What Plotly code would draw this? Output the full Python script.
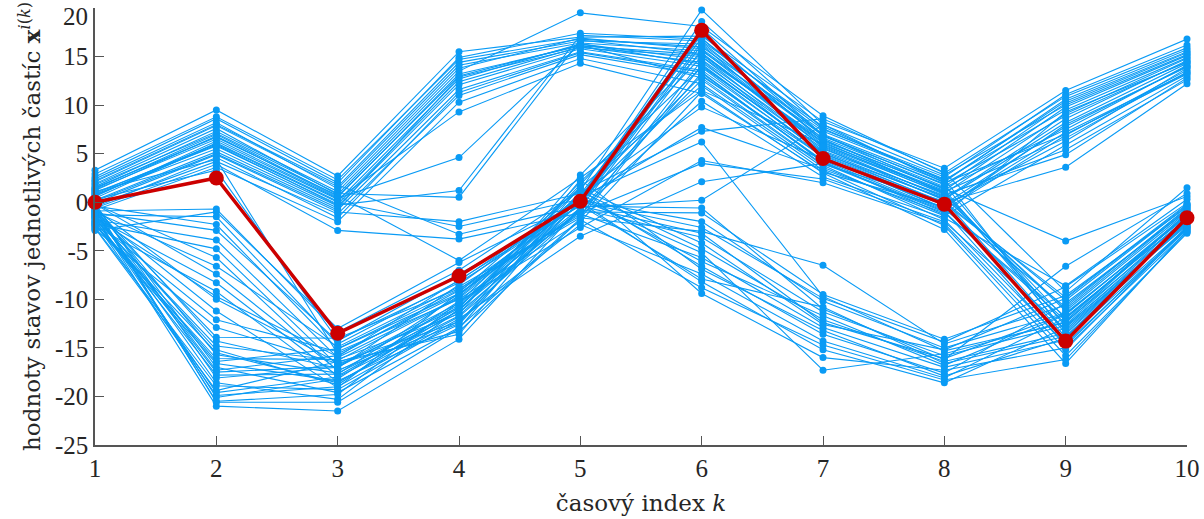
import plotly.graph_objects as go

# time index
k = [1, 2, 3, 4, 5, 6, 7, 8, 9, 10]

# particle values per time step (same particle order in every list)
x_k1 = [1.2, 0.8, 2.1, -0.3, 3.3, 0.4, 1.6, -0.8, 2.6, 0.1, 1.9, 0.6,
        1.0, 2.4, -0.5, 1.4, 0.2, 2.9,
        1.3, 0.7, 1.8, -0.1, 0.9, 2.2, -0.6, 1.5,
        0.3, 1.1,
        -0.9, -1.3, -0.4, -1.8, -2.2, -0.2, -1.0, -1.6, -2.5, -0.7, -1.2, -2.0,
        -0.5, -1.5, -2.3, -0.3, -1.9, -1.1, -2.7, -0.8, -1.4, -2.1,
        -1.7, -0.6, -2.4, -1.0, -0.1, -2.6, -1.5, -0.4, -2.0, -1.3, -0.9, -2.3,
        -1.6, -0.2, -2.8, -1.1, -0.7, -2.9]
x_k2 = [6.8, 5.5, 7.9, 4.2, 9.5, 6.1, 7.3, 3.6, 8.6, 5.0, 7.6, 6.3,
        5.8, 8.2, 4.6, 7.0, 5.2, 8.8,
        6.5, 5.9, 7.1, 4.9, 6.0, 8.0, 3.9, 6.7,
        3.3, 4.4,
        -0.7, -1.5, -2.3, -3.9, -4.8, -5.7, -6.6, -8.3, -9.2, -10.0, -11.2, -12.1,
        -14.3, -15.2, -16.1, -17.0, -17.8, -18.6, -19.4, -20.1, -21.0, -19.9,
        -14.8, -15.7, -16.6, -17.3, -18.1, -18.9, -19.6, -20.6, -16.4, -17.5, -13.9, -15.5,
        -9.7, -7.4, -12.9, -2.9, -20.5, -1.0]
x_k3 = [0.5, -0.4, 1.6, -1.2, 2.7, 0.1, 1.1, -2.0, 2.0, -0.8, 0.8, 0.3,
        -0.2, 1.4, -1.6, 0.6, -0.6, 2.3,
        0.4, -0.3, 0.9, -1.0, 0.0, 1.8, -2.9, 0.7,
        -14.2, -15.6,
        -13.4, -14.6, -15.1, -16.0, -16.8, -17.4, -14.9, -17.9, -18.5, -16.5, -19.1, -15.4,
        -17.1, -18.8, -16.2, -19.6, -17.7, -20.3, -16.4, -18.2, -21.5, -19.0,
        -16.3, -17.6, -18.4, -15.8, -17.0, -19.3, -18.0, -20.6, -15.1, -16.9, -14.0, -18.6,
        -15.9, -17.3, -16.6, -14.3, -19.8, -13.0]
x_k4 = [13.2, 12.1, 14.4, 11.0, 15.5, 12.7, 13.8, 10.3, 14.9, 11.6, 13.5, 9.3,
        12.4, 14.1, 11.3, 13.0, 12.9, 14.7,
        4.6, 1.2, 0.5, -2.0, -2.5, -3.3, -3.8, -6.0,
        -8.3, -9.5,
        -7.0, -8.1, -9.0, -9.8, -10.4, -11.2, -8.7, -10.9, -11.8, -12.3, -9.3, -10.0,
        -8.5, -10.7, -11.5, -12.9, -9.6, -11.0, -13.6, -10.2, -14.1, -12.0,
        -9.9, -11.4, -12.6, -9.1, -10.6, -12.2, -11.7, -13.0, -9.4, -10.8, -8.9, -11.1,
        -8.0, -12.5, -13.3, -7.4, -10.3, -6.2]
x_k5 = [16.1, 15.8, 16.6, 15.2, 17.0, 16.3, 16.9, 14.8, 17.4, 15.5, 19.5, 14.3,
        16.0, 16.4, 15.4, 16.2, 15.9, 16.8,
        16.3, 17.2, 16.7, 0.9, 0.3, -0.4, -1.1, 2.5,
        -0.3, 0.6,
        1.2, 0.4, -0.2, 0.8, -0.6, 1.8, -1.4, 2.1, -0.9, 0.1, 1.5, -2.0,
        0.5, -0.1, 2.8, -1.7, 0.7, -0.8, 1.0, -2.6, -0.5, -3.5,
        0.2, -0.7, 1.1, -1.2, 0.9, -2.3, 0.0, 1.6, -1.0, 0.6, -1.6, 0.3,
        -0.3, 2.3, -1.8, -0.4, 1.4, 0.0]
x_k6 = [15.2, 14.0, 16.3, 13.1, 17.1, 14.7, 15.8, 12.2, 16.8, 13.6, 18.1, 11.2,
        14.4, 15.6, 13.4, 12.8, 15.0, 16.0,
        14.2, 16.6, 15.3, 9.8, 7.7, -3.2, 4.0, 11.5,
        16.2, 6.2,
        19.8, 18.6, 17.3, 16.9, 15.7, 15.0, 14.6, 13.9, 13.3, 12.6, 12.0, 11.4,
        17.9, 16.5, 15.4, 14.1, 13.0, 10.4, 7.3, 4.3, 0.2, 2.1,
        -2.0, -3.6, -4.8, -5.7, -6.6, -7.4, -8.2, -9.4, -1.1, -6.1, -3.0, -5.2,
        -7.9, -6.9, -8.8, -0.6, -4.2, -2.6]
x_k7 = [6.1, 5.2, 7.0, 4.3, 8.3, 5.8, 6.6, 3.6, 7.5, 4.8, 8.9, 3.1,
        5.5, 6.9, 4.1, 3.9, 6.4, 7.3,
        5.0, 7.8, 6.2, 4.4, 3.4, -12.4, 2.4, 6.0,
        5.6, -9.7,
        8.0, 7.6, 6.8, 6.3, 5.9, 5.3, 4.9, 4.6, 4.2, 3.8, 3.3, 3.0,
        6.9, 6.5, 5.7, 5.1, 4.7, 2.6, 8.6, 2.0, 8.0, 4.0,
        -10.2, -11.3, -12.1, -12.9, -13.6, -14.3, -15.2, -16.0, -9.5, -11.7, -6.5, -17.3,
        -10.8, -13.2, -14.7, -11.0, -12.6, -9.9]
x_k8 = [1.2, 0.3, 2.1, -0.8, 3.5, 0.9, 1.6, -1.4, 2.6, -0.2, 3.0, -0.5,
        0.6, 1.8, -0.9, 0.1, 1.4, 2.4,
        0.4, 2.2, 1.0, -0.3, -1.1, -16.1, -2.0, 0.8,
        0.2, -15.3,
        2.8, 2.3, 1.9, 1.5, 1.1, 0.7, 0.0, -0.6, -1.3, -1.8, -2.4, -2.8,
        1.3, 0.9, 0.5, -0.1, -0.7, -1.6, 3.1, -2.2, 2.0, -1.0,
        -15.0, -15.8, -16.4, -17.0, -17.6, -18.1, -18.6, -17.3, -14.1, -16.8, -14.6, -15.6,
        -16.6, -17.9, -18.3, -16.2, -15.2, -14.4]
x_k9 = [9.8, 8.2, 10.6, 6.9, 11.5, 9.1, 10.2, 5.9, 11.1, 7.8, 10.9, 7.2,
        -11.2, -12.8, -14.8, -10.1, -4.0, -13.6,
        8.6, 10.4, -12.0, 6.3, -11.8, -11.5, -13.1, 4.9,
        -13.9, -12.4,
        10.0, 9.5, 8.9, 7.5, 6.6, 5.4, 3.6, 8.0, 9.3, -14.6, -15.8, -16.6,
        -13.3, -12.6, -11.0, -9.8, -10.8, -8.6, -9.2, -15.2, 7.0, -12.2,
        -11.4, -12.7, -13.5, -14.2, -10.4, -11.9, -12.9, -15.0, -9.6, -11.6, -10.6, -12.3,
        -13.8, -14.0, -16.2, -6.6, -9.9, -8.7]
x_k10 = [15.1, 14.3, 15.7, 13.6, 16.8, 14.8, 15.4, 13.0, 16.2, 14.0, 15.9, 13.3,
         -1.0, -1.9, -2.5, -0.4, 0.6, -2.1,
         14.6, 15.5, -1.3, 13.8, -1.7, -1.4, -2.2, 12.8,
         -1.8, -1.2,
         15.2, 14.9, 14.5, 14.1, 13.4, 12.6, 12.2, 13.9, 14.4, -2.8, -3.2, -2.9,
         -2.0, -1.6, -0.8, -0.2, -0.6, 0.3, 1.5, -2.6, 13.2, -1.1,
         -1.5, -2.3, -1.9, -2.7, -0.9, -1.7, -2.4, -3.0, -0.5, -1.2, -0.7, -2.0,
         -2.6, -1.8, -3.1, 0.9, -0.3, -0.1]

# true state trajectory
x_true = [0.0, 2.5, -13.5, -7.6, 0.1, 17.7, 4.5, -0.2, -14.3, -1.6]

x_ticks = [1, 2, 3, 4, 5, 6, 7, 8, 9, 10]
y_ticks = [20, 15, 10, 5, 0, -5, -10, -15, -20, -25]

BLUE = "rgb(10,155,245)"
RED = "rgb(204,0,0)"
TICK_FONT = "Liberation Serif, serif"
TITLE_FONT = "DejaVu Serif, serif"
TXT = "#262626"

columns = [x_k1, x_k2, x_k3, x_k4, x_k5, x_k6, x_k7, x_k8, x_k9, x_k10]
n_part = len(x_k1)

px, py = [], []
for i in range(n_part):
    for t, col in zip(k, columns):
        px.append(t)
        py.append(col[i])
    px.append(None)
    py.append(None)

fig = go.Figure()
fig.add_trace(go.Scatter(
    x=px, y=py, mode="lines+markers",
    line=dict(color=BLUE, width=1.1),
    marker=dict(color=BLUE, size=7),
    cliponaxis=False, hoverinfo="skip", showlegend=False,
))
fig.add_trace(go.Scatter(
    x=k, y=x_true, mode="lines+markers",
    line=dict(color=RED, width=3.5),
    marker=dict(color=RED, size=15),
    cliponaxis=False, showlegend=False,
))

# the topmost y label is nudged down to stay inside the figure (as in the original)
top = max(y_ticks)
y_text = ["" if v == top else str(v) for v in y_ticks]
fig.add_annotation(
    xref="paper", yref="y", x=0, y=top, text=str(top), showarrow=False,
    xanchor="right", yanchor="top", xshift=-5, yshift=7,
    font=dict(family=TICK_FONT, size=25, color=TXT),
)

fig.update_layout(
    width=1204, height=519,
    margin=dict(l=95, r=17, t=8, b=74, autoexpand=False),
    paper_bgcolor="white", plot_bgcolor="white",
    font=dict(family=TICK_FONT, size=25, color=TXT),
    xaxis=dict(
        range=[1, 10], tickvals=x_ticks, ticktext=[str(v) for v in x_ticks],
        ticks="inside", ticklen=9, tickcolor="#555", tickwidth=1,
        showline=True, linecolor="#555", linewidth=1.5,
        showgrid=False, zeroline=False, ticklabeloverflow="allow", automargin=False,
        title=dict(text="časový index <i>k</i>", standoff=14,
                   font=dict(family=TITLE_FONT, size=23, color=TXT)),
        tickfont=dict(family=TICK_FONT, size=25, color=TXT),
    ),
    yaxis=dict(
        range=[-25, 20], tickvals=y_ticks, ticktext=y_text,
        ticks="inside", ticklen=9, tickcolor="#555", tickwidth=1,
        showline=True, linecolor="#555", linewidth=1.5,
        showgrid=False, zeroline=False, ticklabeloverflow="allow", automargin=False,
        title=dict(text="hodnoty stavov jednotlivých častíc <b>x</b><sup><i>i</i>(<i>k</i>)</sup>",
                   standoff=8, font=dict(family=TITLE_FONT, size=23, color=TXT)),
        tickfont=dict(family=TICK_FONT, size=25, color=TXT),
    ),
)

fig.write_html("out.html")
